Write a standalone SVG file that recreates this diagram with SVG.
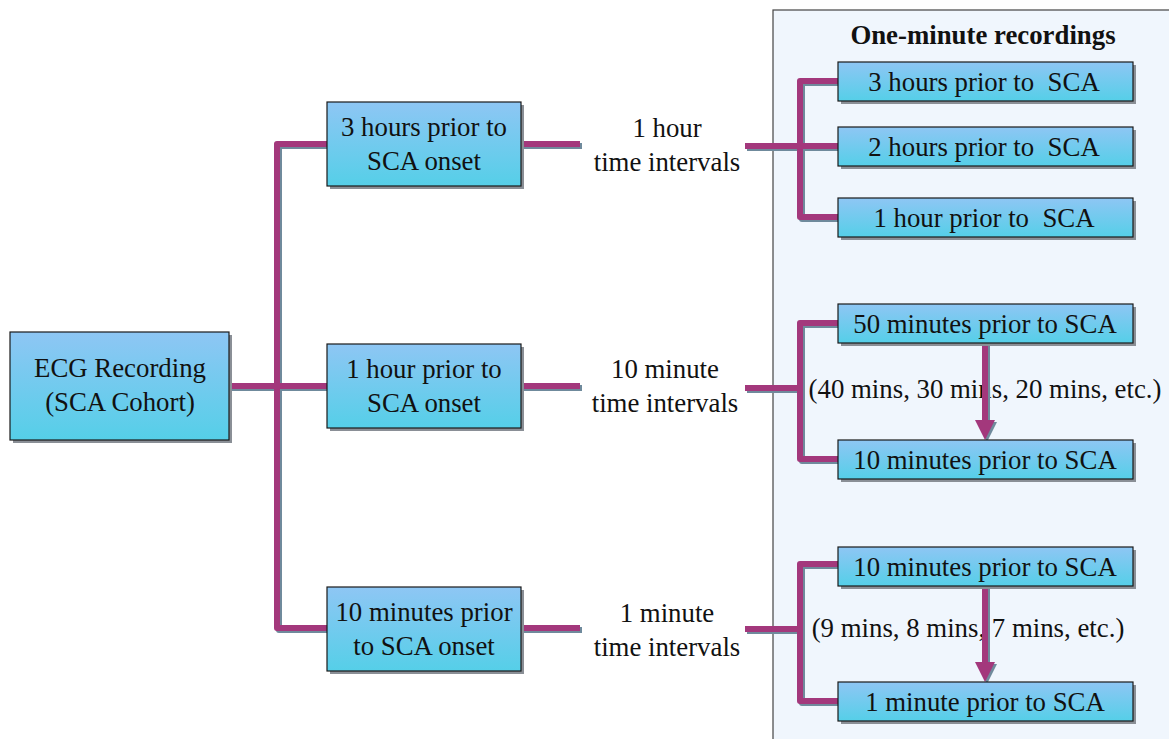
<svg xmlns="http://www.w3.org/2000/svg" width="1169" height="739" viewBox="0 0 1169 739">
<defs>
<linearGradient id="g" x1="0" y1="0" x2="0" y2="1">
<stop offset="0" stop-color="#8EC6F4"/>
<stop offset="1" stop-color="#55CFE8"/>
</linearGradient>
<style>
.box{fill:url(#g);stroke:#1a1a1a;stroke-width:1.2}
.sh{fill:#8a8f96}
.t{font-family:"Liberation Serif","Times New Roman",serif;font-size:26.8px;fill:#111;text-anchor:middle;white-space:pre}
.b{font-weight:bold}
.c{fill:none;stroke:#A3387C;stroke-width:6;stroke-linejoin:round;stroke-linecap:butt}
.cs{fill:none;stroke:#6F8A9C;stroke-width:6;stroke-linejoin:round}
.ah{fill:#A3387C}
</style>
</defs>
<rect width="1169" height="739" fill="#fff"/>
<rect id="panel" x="773" y="10" width="400" height="735" fill="#F0F6FD" stroke="#444" stroke-width="1.2"/>
<text class="t b" x="983" y="44">One-minute recordings</text>
<text id="range1" class="t" x="985" y="398">(40 mins, 30 mins, 20 mins, etc.)</text>
<text id="range2" class="t" x="968" y="637">(9 mins, 8 mins, 7 mins, etc.)</text>

<g id="connectors">
<g class="cs" transform="translate(2,2)">
<path d="M327,144 H277 V628 H327"/>
<path d="M229,386 H327"/>
<path d="M521,144 H580 M521,386 H580 M521,628 H580"/>
<path d="M745,146 H838 M838,81 H800 V217 H838"/>
<path d="M745,388 H800 M838,323 H800 V459 H838"/>
<path d="M745,629 H800 M838,564 H800 V701 H838"/>
<path d="M985,343 V420 M985,585 V662"/>
</g>
<path class="c" d="M327,144 H277 V628 H327"/>
<path class="c" d="M229,386 H327"/>
<path class="c" d="M521,144 H580 M521,386 H580 M521,628 H580"/>
<path class="c" d="M745,146 H838 M838,81 H800 V217 H838"/>
<path class="c" d="M745,388 H800 M838,323 H800 V459 H838"/>
<path class="c" d="M745,629 H800 M838,564 H800 V701 H838"/>
<path class="c" d="M985,343 V420 M985,585 V662"/>
<polygon fill="#6F8A9C" points="977,422 997,422 987,442"/>
<polygon class="ah" points="975,420 995,420 985,440"/>
<polygon fill="#6F8A9C" points="977,664 997,664 987,684"/>
<polygon class="ah" points="975,662 995,662 985,682"/>
</g>

<g id="ecg">
<rect class="sh" x="13" y="335" width="219" height="108"/>
<rect class="box" x="10" y="332" width="219" height="108"/>
<text class="t" x="120" y="377">ECG Recording</text>
<text class="t" x="120" y="411">(SCA Cohort)</text>
</g>

<g id="m3h">
<rect class="sh" x="330" y="105" width="194" height="84"/>
<rect class="box" x="327" y="102" width="194" height="84"/>
<text class="t" x="424" y="136">3 hours prior to</text>
<text class="t" x="424" y="170">SCA onset</text>
</g>
<g id="m1h">
<rect class="sh" x="330" y="347" width="194" height="84"/>
<rect class="box" x="327" y="344" width="194" height="84"/>
<text class="t" x="424" y="378">1 hour prior to</text>
<text class="t" x="424" y="412">SCA onset</text>
</g>
<g id="m10m">
<rect class="sh" x="330" y="590" width="194" height="84"/>
<rect class="box" x="327" y="587" width="194" height="84"/>
<text class="t" x="424" y="621">10 minutes prior</text>
<text class="t" x="424" y="655">to SCA onset</text>
</g>

<g id="l1">
<text class="t" x="667" y="137">1 hour</text>
<text class="t" x="667" y="171">time intervals</text>
</g>
<g id="l2">
<text class="t" x="665" y="378">10 minute</text>
<text class="t" x="665" y="412">time intervals</text>
</g>
<g id="l3">
<text class="t" x="667" y="622">1 minute</text>
<text class="t" x="667" y="656">time intervals</text>
</g>

<g id="r3h">
<rect class="sh" x="841" y="65" width="295" height="39"/>
<rect class="box" x="838" y="62" width="295" height="39"/>
<text class="t" x="984" y="91" xml:space="preserve">3 hours prior to  SCA</text>
</g>
<g id="r2h">
<rect class="sh" x="841" y="130" width="295" height="39"/>
<rect class="box" x="838" y="127" width="295" height="39"/>
<text class="t" x="984" y="156" xml:space="preserve">2 hours prior to  SCA</text>
</g>
<g id="r1h">
<rect class="sh" x="841" y="201" width="295" height="39"/>
<rect class="box" x="838" y="198" width="295" height="39"/>
<text class="t" x="984" y="227" xml:space="preserve">1 hour prior to  SCA</text>
</g>
<g id="r50m">
<rect class="sh" x="841" y="307" width="295" height="39"/>
<rect class="box" x="838" y="304" width="295" height="39"/>
<text class="t" x="985" y="333">50 minutes prior to SCA</text>
</g>
<g id="r10m">
<rect class="sh" x="841" y="443" width="295" height="39"/>
<rect class="box" x="838" y="440" width="295" height="39"/>
<text class="t" x="985" y="469">10 minutes prior to SCA</text>
</g>
<g id="r10m2">
<rect class="sh" x="841" y="550" width="295" height="39"/>
<rect class="box" x="838" y="547" width="295" height="39"/>
<text class="t" x="985" y="576">10 minutes prior to SCA</text>
</g>
<g id="r1m">
<rect class="sh" x="841" y="685" width="295" height="39"/>
<rect class="box" x="838" y="682" width="295" height="39"/>
<text class="t" x="985" y="711">1 minute prior to SCA</text>
</g>
</svg>
